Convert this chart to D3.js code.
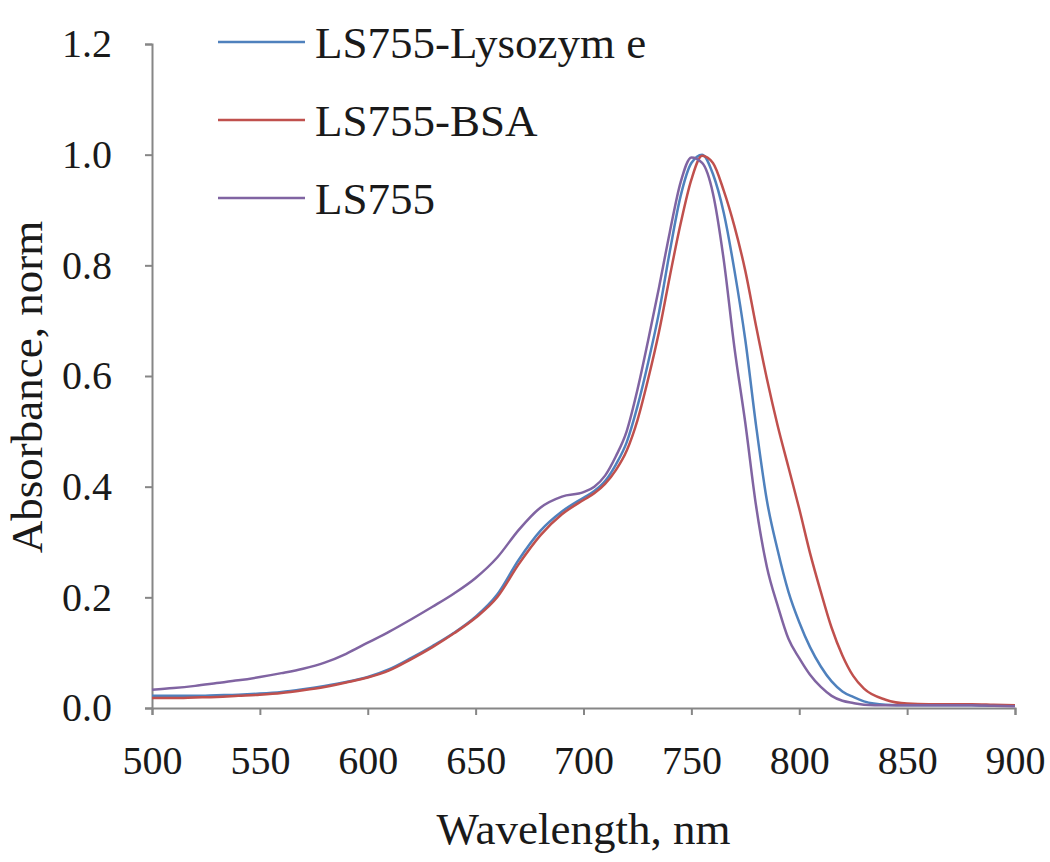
<!DOCTYPE html>
<html>
<head>
<meta charset="utf-8">
<script src="https://cdn.jsdelivr.net/npm/d3@7"></script>
<style>
    body { margin: 0; background: #fff; }
</style>
</head>
<body>
<div id="spectrum-chart"></div>
<script>
const wavelengths = [500, 510, 520, 530, 540, 550, 560, 570, 580, 590,
                     600, 610, 620, 630, 640, 650, 660, 670, 680, 690,
                     700, 705, 710, 715, 720, 725, 730, 735, 740, 745,
                     750, 755, 760, 765, 770, 775, 780, 785, 790, 795,
                     800, 805, 810, 815, 820, 825, 830, 840, 850, 860,
                     870, 880, 890, 900];

const lysozymeValues = [0.022, 0.022, 0.022, 0.023, 0.024, 0.026, 0.029, 0.034, 0.040, 0.047,
                        0.056, 0.070, 0.090, 0.112, 0.136, 0.165, 0.205, 0.268, 0.320, 0.355,
                        0.380, 0.392, 0.410, 0.440, 0.480, 0.545, 0.625, 0.715, 0.825, 0.925,
                        0.985, 1.000, 0.965, 0.895, 0.790, 0.665, 0.510, 0.375, 0.285, 0.210,
                        0.155, 0.110, 0.075, 0.048, 0.030, 0.020, 0.012, 0.006, 0.005, 0.005,
                        0.005, 0.005, 0.004, 0.004];

const bsaValues = [0.018, 0.018, 0.019, 0.020, 0.022, 0.024, 0.027, 0.032, 0.038, 0.046,
                   0.055, 0.068, 0.088, 0.110, 0.135, 0.163, 0.200, 0.260, 0.312, 0.350,
                   0.376, 0.388, 0.405, 0.430, 0.465, 0.520, 0.595, 0.680, 0.780, 0.875,
                   0.955, 0.998, 0.985, 0.935, 0.870, 0.790, 0.690, 0.595, 0.510, 0.435,
                   0.360, 0.280, 0.210, 0.145, 0.095, 0.058, 0.035, 0.015, 0.008, 0.007,
                   0.007, 0.007, 0.006, 0.005];

const ls755Values = [0.033, 0.036, 0.040, 0.045, 0.050, 0.056, 0.063, 0.071, 0.082, 0.098,
                     0.118, 0.138, 0.160, 0.183, 0.207, 0.235, 0.272, 0.322, 0.362, 0.382,
                     0.390, 0.400, 0.420, 0.455, 0.500, 0.575, 0.665, 0.760, 0.860, 0.950,
                     0.995, 0.985, 0.930, 0.810, 0.650, 0.515, 0.365, 0.255, 0.185, 0.125,
                     0.090, 0.060, 0.038, 0.022, 0.013, 0.009, 0.006, 0.005, 0.005, 0.005,
                     0.005, 0.005, 0.004, 0.003];

const seriesNames = ["LS755-Lysozym e", "LS755-BSA", "LS755"];
const seriesColors = ["#4f81bd", "#c0504d", "#8064a2"];
const xTicks = [500, 550, 600, 650, 700, 750, 800, 850, 900];
const yTicks = [0, 0.2, 0.4, 0.6, 0.8, 1.0, 1.2];

const series = [lysozymeValues, bsaValues, ls755Values].map((values, i) => ({
    name: seriesNames[i],
    color: seriesColors[i],
    points: wavelengths.map((w, j) => [w, values[j]])
}));

const margin = {top: 44, right: 35, bottom: 154, left: 152};
const width = 1050 - margin.left - margin.right;
const height = 862 - margin.top - margin.bottom;
const axisColor = "#868686";
const textColor = "#1a1a1a";
const serifFont = "'Liberation Serif', 'Times New Roman', serif";

const svg = d3.select("#spectrum-chart")
              .append("svg")
              .attr("width", 1050)
              .attr("height", 862)
              .attr("font-family", serifFont)
              .append("g")
              .attr("transform", `translate(${margin.left}, ${margin.top})`);

const xScale = d3.scaleLinear().domain([500, 900]).range([0, width]);
const yScale = d3.scaleLinear().domain([0, 1.2]).range([height, 0]);

const styleAxis = g => {
    g.attr("font-family", serifFont);
    g.select(".domain").attr("stroke", axisColor).attr("stroke-width", 2);
    g.selectAll("line").attr("stroke", axisColor).attr("stroke-width", 2);
    g.selectAll("text").style("font-size", "40px").attr("fill", textColor);
};

// X axis
svg.append("g")
   .attr("transform", `translate(0, ${height})`)
   .call(d3.axisBottom(xScale).tickValues(xTicks).tickSize(7).tickPadding(31).tickFormat(d3.format("d")))
   .call(styleAxis);

// Y axis
svg.append("g")
   .call(d3.axisLeft(yScale).tickValues(yTicks).tickSize(7).tickPadding(33).tickFormat(d3.format(".1f")))
   .call(styleAxis);

// Axis titles
svg.append("text")
   .attr("x", width / 2)
   .attr("y", height + 136)
   .attr("text-anchor", "middle")
   .style("font-size", "45px")
   .attr("fill", textColor)
   .text("Wavelength, nm");

svg.append("text")
   .attr("transform", `translate(${42 - margin.left}, ${height / 2 + 11}) rotate(-90)`)
   .attr("text-anchor", "middle")
   .style("font-size", "45px")
   .attr("fill", textColor)
   .text("Absorbance, norm");

// Lines
const line = d3.line()
               .x(d => xScale(d[0]))
               .y(d => yScale(d[1]))
               .curve(d3.curveMonotoneX);

svg.selectAll(".spectrum")
   .data(series)
   .join("path")
   .attr("class", "spectrum")
   .attr("fill", "none")
   .attr("stroke", d => d.color)
   .attr("stroke-width", 2.5)
   .attr("d", d => line(d.points));

// Legend
const legend = svg.append("g")
                  .attr("transform", `translate(${218 - margin.left}, ${42 - margin.top})`);

const legendItem = legend.selectAll("g")
                         .data(series)
                         .join("g")
                         .attr("transform", (_, i) => `translate(0, ${i * 78})`);

legendItem.append("line")
          .attr("x1", 0)
          .attr("x2", 87)
          .attr("stroke", d => d.color)
          .attr("stroke-width", 2.5);

legendItem.append("text")
          .attr("x", 97)
          .attr("y", 16)
          .style("font-size", "45px")
          .attr("fill", textColor)
          .text(d => d.name);
</script>
</body>
</html>
